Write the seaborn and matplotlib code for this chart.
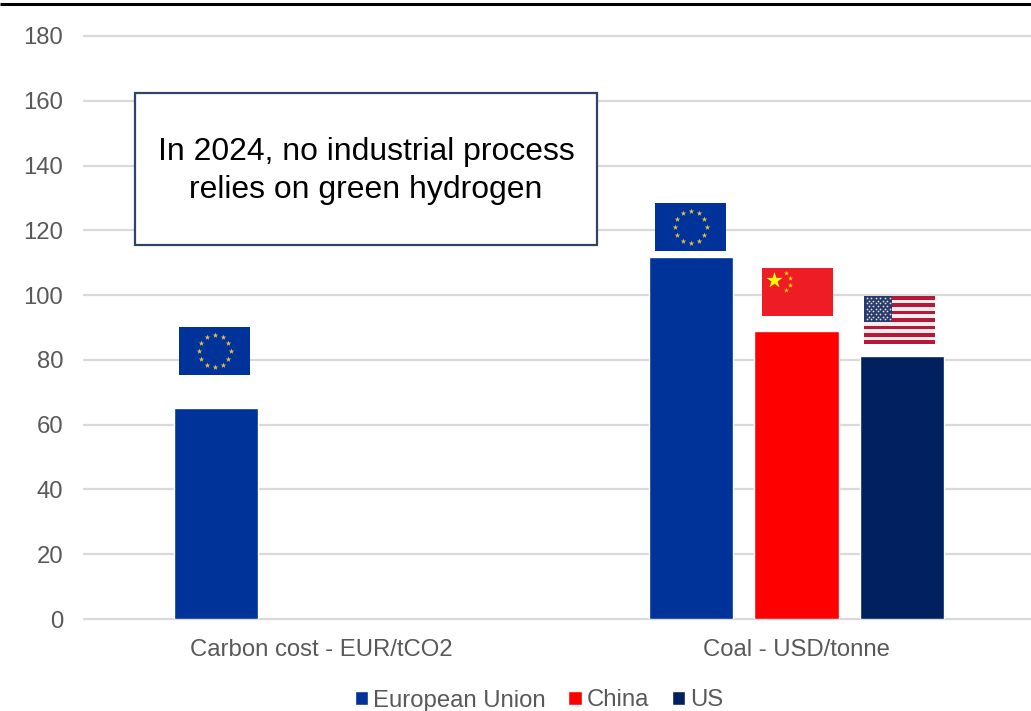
import math

import matplotlib
matplotlib.use("Agg")
import matplotlib.pyplot as plt
from matplotlib.patches import Rectangle
import pandas as pd
import seaborn as sns

categories = ["Carbon cost - EUR/tCO2", "Coal - USD/tonne"]
regions = ["European Union", "China", "US"]
eu_values = [65, 111.8]
china_values = [None, 89]
us_values = [None, 81.2]
y_ticks = list(range(0, 181, 20))
note_lines = "In 2024, no industrial process\nrelies on green hydrogen"

EU_BLUE = "#003399"
RED = "#FF0000"
NAVY = "#002060"
TEXT = "#595959"
GRID = "#D9D9D9"

W, H = 1031, 711

records = []
for region, values in zip(regions, [eu_values, china_values, us_values]):
    for category, value in zip(categories, values):
        records.append({"category": category, "region": region, "value": value})
df = pd.DataFrame(records)

sns.set_theme(style="white")
plt.rcParams["font.family"] = ["Liberation Sans", "DejaVu Sans"]

fig = plt.figure(figsize=(W / 100, H / 100), dpi=100, facecolor="white")
ax = fig.add_axes([84 / W, 1 - 619 / H, 950 / W, 583 / H])

sns.barplot(
    data=df, x="category", y="value", hue="region", hue_order=regions,
    palette=[EU_BLUE, RED, NAVY], width=0.666, gap=0.2, saturation=1,
    ax=ax, zorder=3, errorbar=None,
)

ax.set_xlim(-0.5, 1.5)
ax.set_ylim(0, 180)
ax.set_yticks(y_ticks)
ax.set_xlabel("")
ax.set_ylabel("")
ax.grid(axis="y", color=GRID, linewidth=1.6, zorder=0, clip_on=False)
ax.set_axisbelow(True)
for spine in ax.spines.values():
    spine.set_visible(False)
ax.tick_params(axis="y", length=0, pad=15, labelsize=17.2, labelcolor=TEXT)
ax.tick_params(axis="x", length=0, pad=14.5, labelsize=17.2, labelcolor=TEXT)

handles, labels = ax.get_legend_handles_labels()
ax.legend(
    handles, labels, loc="center", bbox_to_anchor=(539 / W, 1 - 700.5 / H),
    bbox_transform=fig.transFigure, ncols=3, frameon=False, fontsize=17.2,
    labelcolor=TEXT, handlelength=0.55, handleheight=0.55, handletextpad=0.21,
    columnspacing=0.96, borderpad=0,
)

# Overlay in pixel coordinates for the note box, flags and the top rule
ov = fig.add_axes([0, 0, 1, 1], facecolor="none")
ov.set_xlim(0, W)
ov.set_ylim(H, 0)
ov.axis("off")

ov.plot([0, W], [3.5, 3.5], color="black", linewidth=2.2, solid_capstyle="butt")

ov.add_patch(Rectangle((135, 93), 462, 152, facecolor="white", edgecolor="#2F4563", linewidth=1.6))
ov.text(366, 171, note_lines, ha="center", va="center", fontsize=22.95, color="black", linespacing=1.37)


def eu_flag(x, y):
    ov.add_patch(Rectangle((x, y), 71, 48, facecolor=EU_BLUE, edgecolor="none", zorder=5))
    cx, cy = x + 35.5, y + 24
    for i in range(12):
        a = math.radians(i * 30)
        ov.scatter(cx + 16 * math.sin(a), cy - 16 * math.cos(a), marker="*", s=18,
                   color="#E3C045", linewidths=0, zorder=6)


def china_flag(x, y):
    ov.add_patch(Rectangle((x, y), 71, 48, facecolor="#EE1C25", edgecolor="none", zorder=5))
    ov.scatter(x + 11.7, y + 12, marker="*", s=150, color="#FFFF00", linewidths=0, zorder=6)
    for dx, dy in [(23.7, 4.7), (28.3, 9.7), (28.3, 17), (23.7, 21.7)]:
        ov.scatter(x + dx, y + dy, marker="*", s=14, color="#FFDD00", linewidths=0, zorder=6)


def us_flag(x, y):
    ov.add_patch(Rectangle((x, y), 71, 48, facecolor="#F6ECEE", edgecolor="none", zorder=5))
    stripe = 48 / 13
    for i in range(0, 13, 2):
        ov.add_patch(Rectangle((x, y + i * stripe), 71, stripe, facecolor="#B4193A", edgecolor="none", zorder=5))
    ov.add_patch(Rectangle((x, y), 28, 7 * stripe, facecolor="#2B3A6B", edgecolor="none", zorder=6))
    for row in range(9):
        count = 6 if row % 2 == 0 else 5
        for col in range(count):
            ov.scatter(x + 2.5 + col * 4.6 + (row % 2) * 2.3, y + 2 + row * 2.65, marker="o", s=1.6,
                       color="#DDE1EC", linewidths=0, zorder=7)


eu_flag(179, 327)
eu_flag(655, 203)
china_flag(762, 268)
us_flag(864, 296)

fig.savefig("out.png", dpi=100)
